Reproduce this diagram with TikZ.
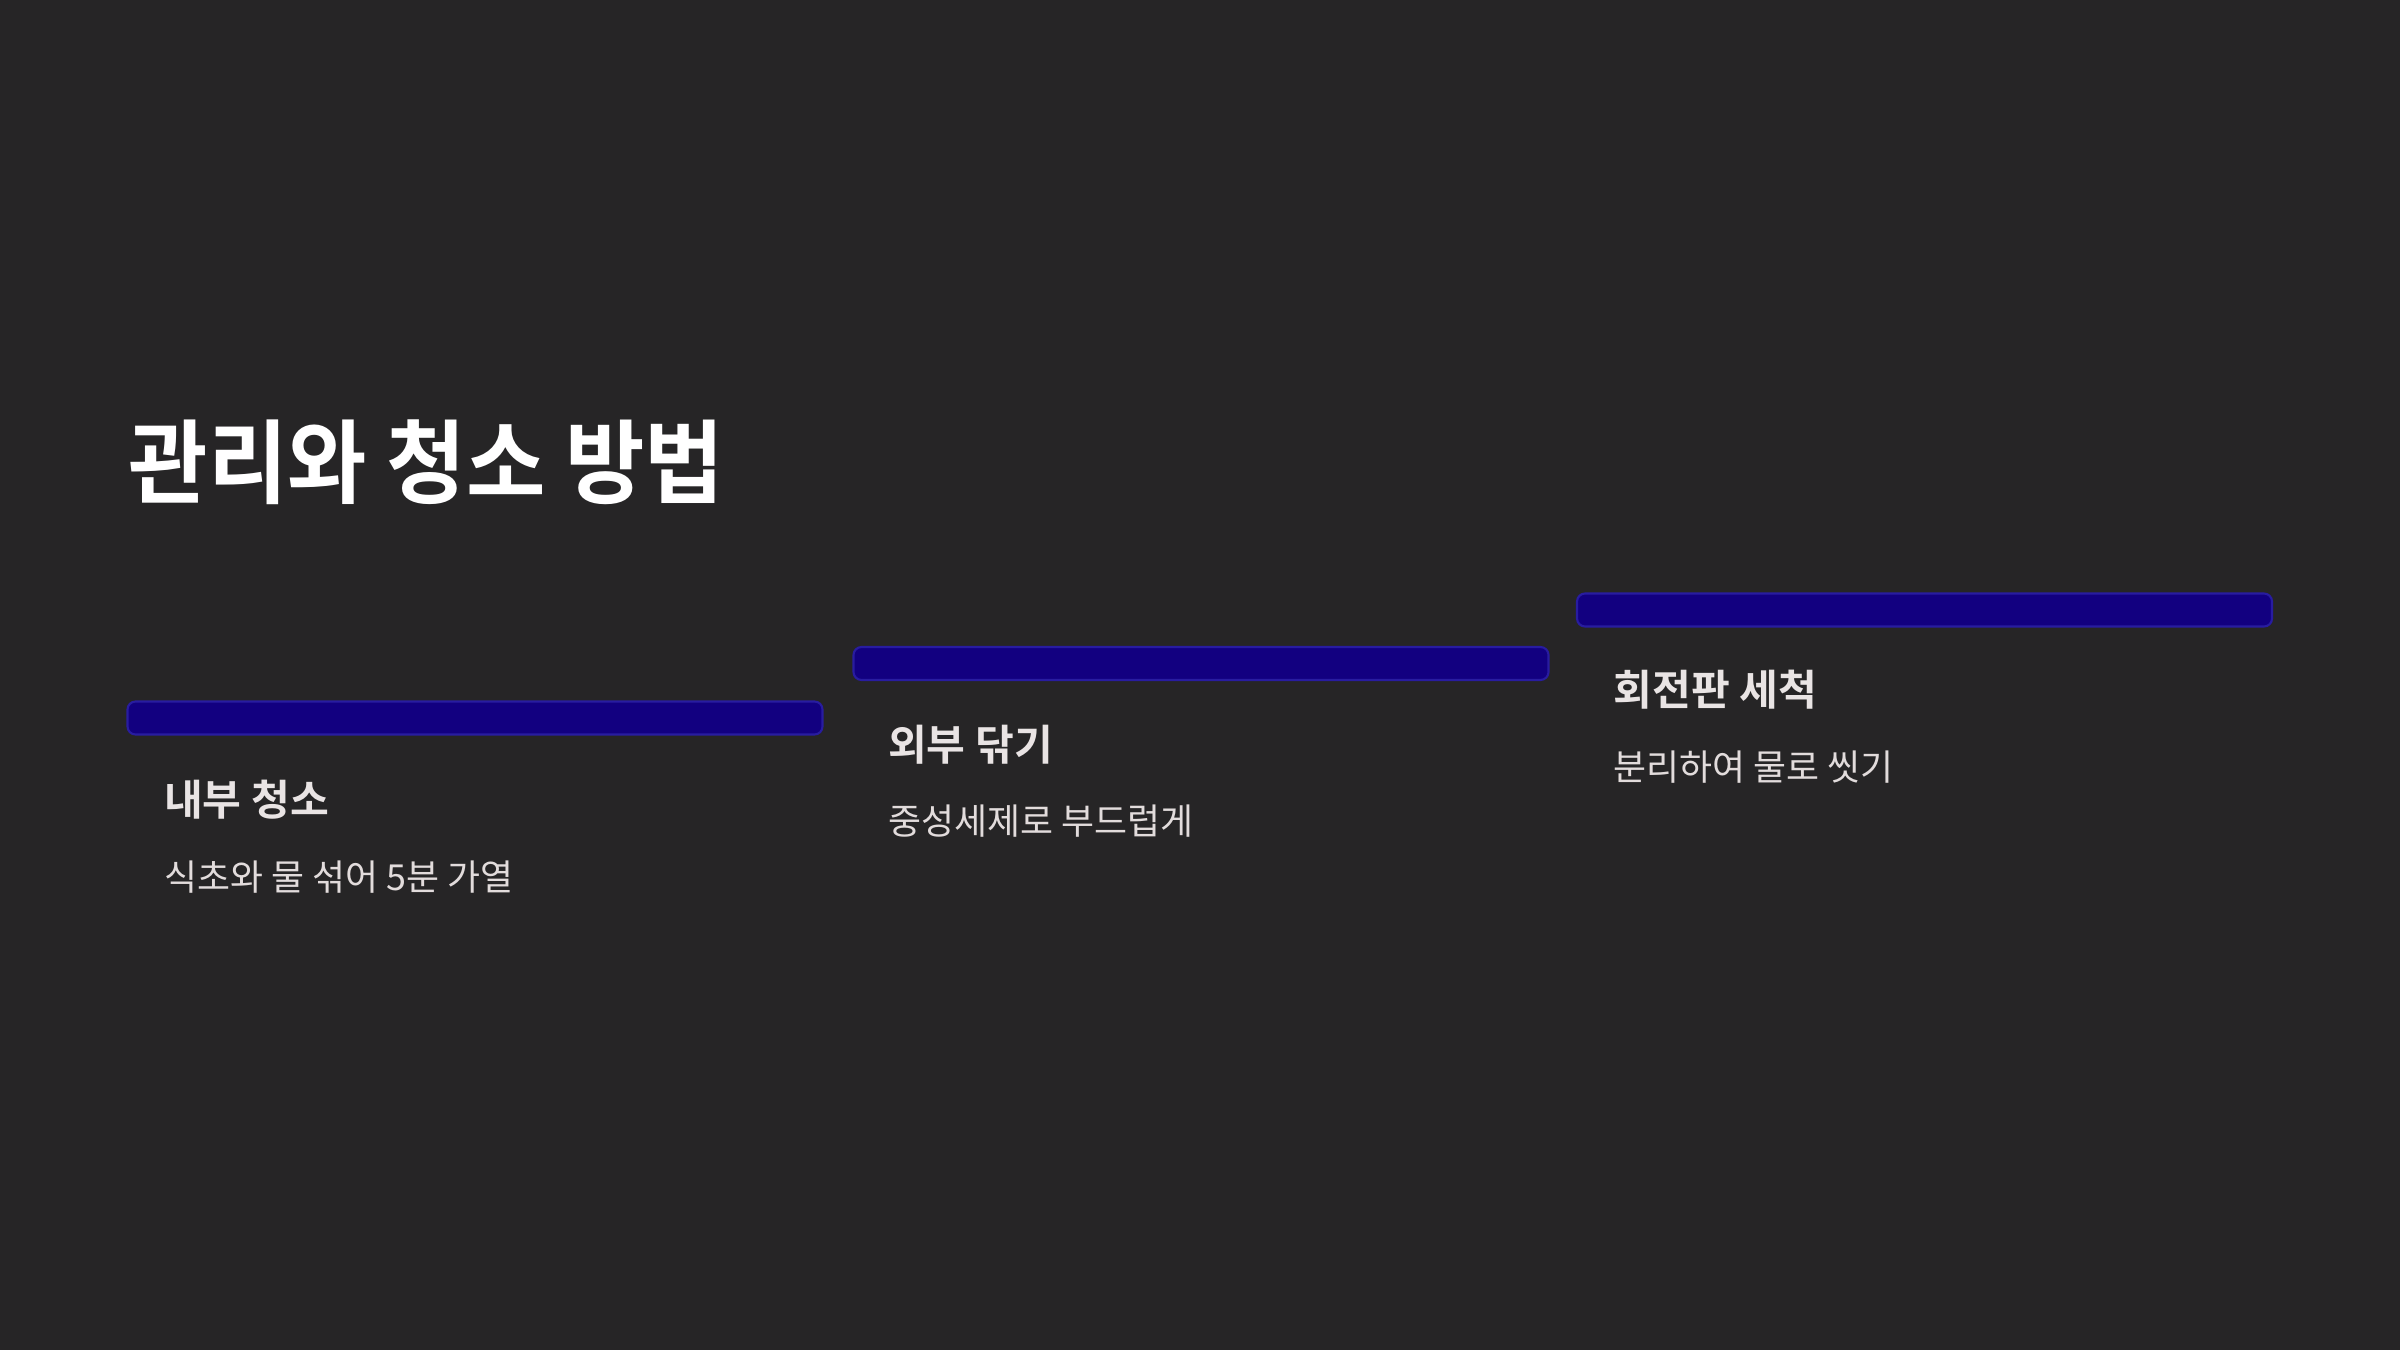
\documentclass[tikz,border=0pt]{standalone}
\usepackage{fontspec}
\setmainfont{Noto Sans CJK KR}
\newfontfamily\titlefont[FakeStretch=0.945]{Noto Sans CJK KR Bold}
\newfontfamily\headfont{Noto Sans CJK KR Bold}
\newfontfamily\bodyfont{Noto Sans CJK KR}
\usetikzlibrary{positioning}

\definecolor{bgdark}{RGB}{38,37,38}
\definecolor{barfill}{RGB}{18,0,128}
\definecolor{barline}{RGB}{40,28,160}
\definecolor{headtext}{RGB}{233,228,228}
\definecolor{bodytext}{RGB}{226,220,220}

\begin{document}
\begin{tikzpicture}[
    bar/.style={rectangle, rounded corners=0.08cm, draw=barline, line width=0.6pt, fill=barfill, minimum width=6.95cm, minimum height=0.33cm, inner sep=0pt},
    heading/.style={inner sep=0pt, text=headtext, font=\headfont\fontsize{12}{14}\selectfont},
    body/.style={inner sep=0pt, text=bodytext, font=\bodyfont\fontsize{10.2}{12}\selectfont},
    title/.style={inner sep=0pt, text=white, font=\titlefont\fontsize{26}{30}\selectfont}
]
    \fill[bgdark] (0,0) rectangle (24,13.5);
    \useasboundingbox (0,0) rectangle (24,13.5);

    \node[title, anchor=north west] (title) at (1.28,9.31) {관리와 청소 방법};

    % three steps, each one a little higher
    \node[bar] (bar1) at (4.75,6.32) {};
    \node[bar] (bar2) at (12.01,6.865) {};
    \node[bar] (bar3) at (19.245,7.40) {};

    \node[heading, below right=0.44cm and 0.37cm of bar1.south west] (head1) {내부 청소};
    \node[body, below=0.40cm of head1.south west, anchor=north west] (text1) {식초와 물 섞어 5분 가열};

    \node[heading, below right=0.43cm and 0.35cm of bar2.south west] (head2) {외부 닦기};
    \node[body, below=0.40cm of head2.south west, anchor=north west] (text2) {중성세제로 부드럽게};

    \node[heading, below right=0.42cm and 0.37cm of bar3.south west] (head3) {회전판 세척};
    \node[body, below=0.40cm of head3.south west, anchor=north west] (text3) {분리하여 물로 씻기};
\end{tikzpicture}
\end{document}
